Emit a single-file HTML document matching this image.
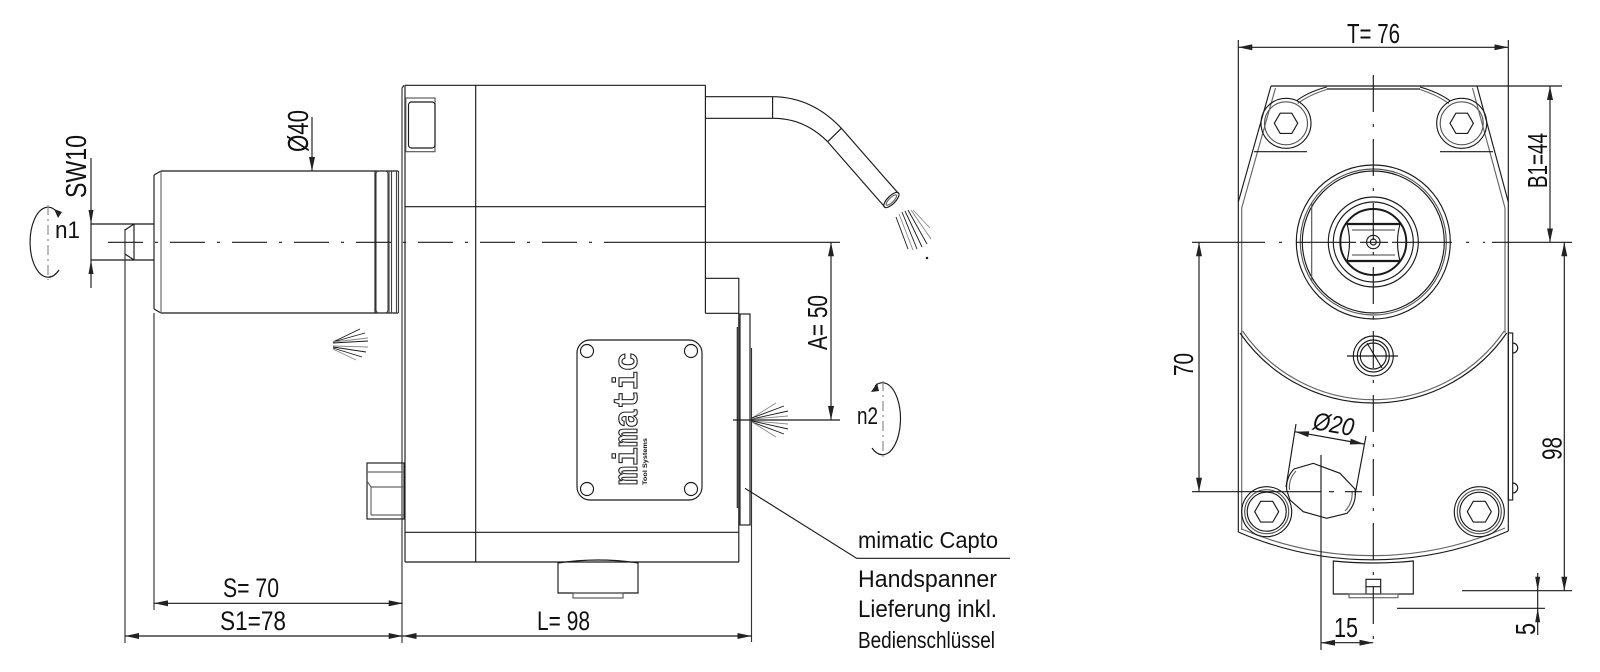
<!DOCTYPE html>
<html><head><meta charset="utf-8"><style>
html,body{margin:0;padding:0;background:#fff;}
svg{display:block;}
text{font-family:"Liberation Sans",Arial,sans-serif;fill:#111;}
</style></head><body>
<svg width="1600" height="672" viewBox="0 0 1600 672" xmlns="http://www.w3.org/2000/svg">
<defs>
<marker id="ar" viewBox="0 0 14 6" refX="14" refY="3" markerWidth="14" markerHeight="6" orient="auto-start-reverse" markerUnits="userSpaceOnUse"><path d="M0,0 L14,3 L0,6 z" fill="#222"/></marker>
</defs>
<rect width="1600" height="672" fill="#fff"/>

<!-- ============ LEFT VIEW ============ -->
<g fill="none" stroke="#1a1a1a" stroke-width="1.15">
<!-- small shaft -->
<line x1="91" y1="224" x2="154" y2="224"/>
<line x1="91" y1="260" x2="154" y2="260"/>
<line x1="125" y1="230" x2="134" y2="224"/>
<line x1="125" y1="254" x2="134" y2="260"/>
<line x1="134" y1="224" x2="134" y2="260"/>
<line x1="125" y1="229" x2="125" y2="643" stroke="#333"/>
<!-- SW10 dim -->
<line x1="91" y1="158" x2="91" y2="288"/>
<polygon points="88.5,210 93.5,210 91,224" fill="#222" stroke="none"/>
<polygon points="88.5,274 93.5,274 91,260" fill="#222" stroke="none"/>
<!-- n1 rotation -->
<path d="M58,213 A18,35 0 1 0 59,270"/>
<polygon points="54,209 62,212 58,218" fill="#222" stroke="none"/>
<line x1="48" y1="205" x2="48" y2="280" stroke="#888" stroke-dasharray="10,4,2,4"/>

<!-- cylinder -->
<line x1="161" y1="171" x2="398" y2="171"/>
<line x1="161" y1="313" x2="398" y2="313"/>
<line x1="154" y1="175" x2="154" y2="309"/>
<line x1="154" y1="175" x2="161" y2="171"/>
<line x1="154" y1="309" x2="161" y2="313"/>
<line x1="161" y1="171" x2="161" y2="313" stroke="#666"/>
<line x1="375" y1="171" x2="375" y2="313"/>
<rect x="376" y="171" width="12" height="142" rx="3" stroke="#444"/>
<line x1="389" y1="171" x2="389" y2="313" stroke="#444"/>
<line x1="391.5" y1="171" x2="391.5" y2="313" stroke="#444"/>
<line x1="396.5" y1="171" x2="396.5" y2="313" stroke="#444"/>
<line x1="398.5" y1="171" x2="398.5" y2="313" stroke="#444"/>
<!-- Ø40 leader -->
<line x1="312" y1="117" x2="312" y2="171" marker-end="url(#ar)"/>

<!-- main block -->
<line x1="405" y1="85.3" x2="705.4" y2="85.3"/>
<line x1="402" y1="88" x2="402" y2="643" stroke="#333"/>
<line x1="402" y1="88" x2="404" y2="85.3"/>
<line x1="405" y1="85.3" x2="405" y2="562"/>
<line x1="475.7" y1="85.3" x2="475.7" y2="562"/>
<line x1="705.4" y1="85.3" x2="705.4" y2="313.3"/>
<line x1="405" y1="206.7" x2="705.4" y2="206.7"/>
<polyline points="705.4,278.3 738.8,278.3 738.8,562"/>
<line x1="705.4" y1="313.3" x2="738.8" y2="313.3"/>
<line x1="405" y1="532.3" x2="739" y2="532.3"/>
<line x1="405" y1="562" x2="739" y2="562"/>
<rect x="405.8" y="98" width="29.2" height="53.7" stroke="#555"/>
<rect x="408.5" y="102" width="26.5" height="46" rx="3"/>
<!-- flange -->
<rect x="740" y="314" width="10" height="211"/>
<line x1="737.3" y1="327" x2="737.3" y2="508"/>
<line x1="751.5" y1="348" x2="751.5" y2="642" stroke="#333"/>
<!-- small box at left -->
<rect x="367" y="463" width="37" height="56"/>
<line x1="367" y1="472" x2="404" y2="472" stroke="#666"/>
<line x1="371" y1="487" x2="404" y2="487" stroke="#666"/>
<line x1="371" y1="487" x2="371" y2="515" stroke="#666"/>
<line x1="371" y1="515" x2="404" y2="515" stroke="#666"/>
<line x1="367" y1="481" x2="371" y2="487" stroke="#666"/>
<!-- knob bottom -->
<path d="M558,563 Q598,557 638,563 L638,593 L558,593 Z"/>
<rect x="573" y="593" width="50" height="5" stroke="#555"/>
<!-- nameplate -->
<rect x="577" y="340" width="125" height="160" rx="13"/>
<circle cx="587" cy="351" r="6.5"/>
<circle cx="691" cy="351" r="6.5"/>
<circle cx="587" cy="489" r="6.5"/>
<circle cx="691" cy="489" r="6.5"/>

<!-- hose -->
<line x1="705.4" y1="96.7" x2="772.6" y2="96.7"/>
<line x1="705.4" y1="118.3" x2="772.6" y2="118.3"/>
<line x1="772.6" y1="96.7" x2="772.6" y2="118.3"/>
<path d="M772.6,96.7 Q812,97 841.4,128.3"/>
<path d="M772.6,118.3 Q804,118 827.7,141.7"/>
<line x1="827.7" y1="141.7" x2="841.4" y2="128.3"/>
<line x1="841.4" y1="128.3" x2="898.3" y2="193.3"/>
<line x1="827.7" y1="141.7" x2="884.5" y2="206.7"/>
<ellipse cx="891.4" cy="200" rx="10" ry="4" transform="rotate(-45 891.4 200)"/>
<ellipse cx="891.4" cy="200" rx="7" ry="2.3" transform="rotate(-45 891.4 200)" stroke="#666"/>

<!-- sprays -->
<g stroke-width="0.9">
<line x1="333" y1="342" x2="360" y2="329"/>
<line x1="333" y1="342" x2="365" y2="333"/>
<line x1="333" y1="342" x2="368" y2="338" stroke="#888"/>
<line x1="333" y1="343" x2="368" y2="341"/>
<line x1="333" y1="346" x2="368" y2="347" stroke="#888"/>
<line x1="333" y1="347" x2="366" y2="352"/>
<line x1="333" y1="348" x2="362" y2="357"/>
<line x1="333" y1="349" x2="356" y2="360" stroke="#888"/>

<line x1="752" y1="418" x2="776" y2="403" stroke="#888"/>
<line x1="752" y1="418" x2="784" y2="406"/>
<line x1="752" y1="419" x2="788" y2="411"/>
<line x1="752" y1="419" x2="788" y2="416" stroke="#888"/>
<line x1="752" y1="421" x2="788" y2="424" stroke="#888"/>
<line x1="752" y1="421" x2="788" y2="429"/>
<line x1="752" y1="422" x2="784" y2="434"/>
<line x1="752" y1="422" x2="776" y2="437" stroke="#888"/>

<line x1="896" y1="217" x2="908" y2="249"/>
<line x1="899" y1="214" x2="913" y2="250" stroke="#888"/>
<line x1="902" y1="212" x2="917" y2="249"/>
<line x1="905" y1="211" x2="922" y2="247"/>
<line x1="908" y1="210" x2="927" y2="244"/>
<line x1="911" y1="210" x2="931" y2="239" stroke="#888"/>
<line x1="913" y1="210" x2="930" y2="228" stroke="#888"/>
<circle cx="927" cy="258" r="0.8" fill="#222"/>
</g>

<!-- centerline left view -->
<line x1="108" y1="242.3" x2="610" y2="242.3" stroke-dasharray="35,12,3,12"/>
<line x1="610" y1="242.3" x2="840" y2="242.3"/>
<!-- A=50 -->
<line x1="831" y1="242.3" x2="831" y2="420" marker-start="url(#ar)" marker-end="url(#ar)"/>
<line x1="733" y1="420" x2="840" y2="420"/>
<!-- n2 rotation -->
<path d="M875,386 A18,36 0 1 1 872,448"/>
<polygon points="871,392 877,383 879,391" fill="#222" stroke="none"/>
<line x1="883" y1="381" x2="883" y2="457" stroke="#888" stroke-dasharray="10,4,2,4"/>
<!-- leader -->
<polyline points="745,488.3 856.7,558.3 1010,558.3"/>

<!-- bottom dims -->
<line x1="154" y1="313" x2="154" y2="610" stroke="#333"/>
<line x1="154" y1="603.3" x2="402.7" y2="603.3" marker-start="url(#ar)" marker-end="url(#ar)"/>
<line x1="125" y1="636" x2="402.7" y2="636" marker-start="url(#ar)" marker-end="url(#ar)"/>
<line x1="402.7" y1="636" x2="751.5" y2="636" marker-start="url(#ar)" marker-end="url(#ar)"/>
</g>

<!-- logo -->
<text transform="translate(637,485) rotate(-90)" font-weight="bold" font-size="34" textLength="133" lengthAdjust="spacingAndGlyphs" style="fill:#fff;stroke:#222;stroke-width:1.1;font-family:'Liberation Mono','DejaVu Sans Mono',monospace">mimatic</text>
<text transform="translate(647,485) rotate(-90)" font-size="6.5" font-weight="bold" textLength="47" lengthAdjust="spacingAndGlyphs">Tool Systems</text>

<!-- left texts -->
<text transform="translate(86,198) rotate(-90)" font-size="29" textLength="63" lengthAdjust="spacingAndGlyphs">SW10</text>
<text transform="translate(308,152) rotate(-90)" font-size="29" textLength="42" lengthAdjust="spacingAndGlyphs">Ø40</text>
<text x="55" y="238" font-size="24" textLength="25" lengthAdjust="spacingAndGlyphs">n1</text>
<text transform="translate(827,350) rotate(-90)" font-size="28" textLength="55" lengthAdjust="spacingAndGlyphs">A= 50</text>
<text x="857" y="424" font-size="24" textLength="21" lengthAdjust="spacingAndGlyphs">n2</text>
<text x="858" y="548" font-size="23" textLength="140" lengthAdjust="spacingAndGlyphs">mimatic Capto</text>
<text x="858" y="587" font-size="24" textLength="139" lengthAdjust="spacingAndGlyphs">Handspanner</text>
<text x="858" y="617" font-size="24" textLength="139" lengthAdjust="spacingAndGlyphs">Lieferung inkl.</text>
<text x="858" y="648" font-size="23" textLength="137" lengthAdjust="spacingAndGlyphs">Bedienschlüssel</text>
<text x="223" y="597" font-size="27" textLength="56" lengthAdjust="spacingAndGlyphs">S= 70</text>
<text x="220" y="630" font-size="27" textLength="66" lengthAdjust="spacingAndGlyphs">S1=78</text>
<text x="537" y="630" font-size="27" textLength="53" lengthAdjust="spacingAndGlyphs">L= 98</text>

<!-- ============ RIGHT VIEW ============ -->
<g fill="none" stroke="#1a1a1a" stroke-width="1.15">
<!-- body outline -->
<line x1="1271" y1="86" x2="1562" y2="86"/>
<line x1="1271" y1="86" x2="1238.3" y2="202"/>
<line x1="1275.5" y1="88" x2="1241.7" y2="208" stroke="#666"/>
<line x1="1477" y1="86" x2="1508.3" y2="202"/>
<line x1="1472.5" y1="88" x2="1505" y2="208" stroke="#666"/>
<line x1="1238.3" y1="40" x2="1238.3" y2="532"/>
<line x1="1241.7" y1="208" x2="1241.7" y2="530" stroke="#666"/>
<line x1="1508.3" y1="40" x2="1508.3" y2="531"/>
<line x1="1505" y1="208" x2="1505" y2="333" stroke="#666"/>
<line x1="1326.7" y1="89" x2="1420" y2="89"/>
<path d="M1296.7,100.7 Q1308,92 1326.7,87"/>
<path d="M1297.5,103.5 Q1310,94.5 1326.7,89.5" stroke="#666"/>
<path d="M1450,100.7 Q1438,92 1420,87"/>
<path d="M1449,103.5 Q1436,94.5 1420,89.5" stroke="#666"/>
<line x1="1254" y1="151.7" x2="1307" y2="151.7"/>
<line x1="1440" y1="151.7" x2="1493" y2="151.7"/>
<!-- middle arc -->
<path d="M1240,333 A162,162 0 0 0 1506.7,333"/>
<path d="M1242.5,331 A159,159 0 0 0 1504.2,331" stroke="#666"/>
<!-- bottom arc -->
<path d="M1508.3,531 A336,336 0 0 1 1238.3,532"/>
<path d="M1505,528 A333,333 0 0 1 1241.7,529" stroke="#666"/>
<!-- right protrusion -->
<rect x="1508.3" y="333" width="4.4" height="167"/>
<path d="M1512.7,343 A5,5 0 0 1 1512.7,353"/>
<path d="M1512.7,483 A5,5 0 0 1 1512.7,493"/>

<!-- top bolts -->
<circle cx="1286" cy="123.3" r="25"/>
<circle cx="1286" cy="123.3" r="21.5" stroke="#555"/>
<polygon points="1274.3,123.3 1280.2,113.2 1291.8,113.2 1297.7,123.3 1291.8,133.4 1280.2,133.4"/>
<circle cx="1461.7" cy="123.3" r="25"/>
<circle cx="1461.7" cy="123.3" r="21.5" stroke="#555"/>
<polygon points="1450,123.3 1455.9,113.2 1467.5,113.2 1473.4,123.3 1467.5,133.4 1455.9,133.4"/>
<!-- bottom bolts -->
<circle cx="1266.7" cy="511.7" r="25"/>
<circle cx="1266.7" cy="511.7" r="22" stroke="#555"/>
<circle cx="1266.7" cy="511.7" r="19.5"/>
<polygon points="1254.7,511.7 1260.7,501.3 1272.7,501.3 1278.7,511.7 1272.7,522.1 1260.7,522.1"/>
<circle cx="1479.3" cy="511.7" r="25"/>
<circle cx="1479.3" cy="511.7" r="22" stroke="#555"/>
<circle cx="1479.3" cy="511.7" r="19.5"/>
<polygon points="1467.3,511.7 1473.3,501.3 1485.3,501.3 1491.3,511.7 1485.3,522.1 1473.3,522.1"/>

<!-- central boss -->
<circle cx="1373.3" cy="242" r="77"/>
<circle cx="1373.3" cy="242" r="73" stroke="#555"/>
<circle cx="1373.3" cy="242" r="71"/>
<line x1="1311.7" y1="203" x2="1311.7" y2="281" stroke="#555"/>
<circle cx="1373.3" cy="242" r="45"/>
<circle cx="1373.3" cy="242" r="40"/>
<circle cx="1373.3" cy="242" r="33" stroke-width="2"/>
<path d="M1347,224 L1400,224 Q1395,242 1400,261 L1347,261 Q1352,242 1347,224 Z"/>
<line x1="1347" y1="224" x2="1400" y2="224" stroke-width="2.2"/>
<line x1="1347" y1="261" x2="1400" y2="261" stroke-width="2.2"/>
<line x1="1352" y1="230" x2="1395" y2="230" stroke="#666"/>
<line x1="1352" y1="255" x2="1395" y2="255" stroke="#666"/>
<circle cx="1373.3" cy="242" r="6.7"/>
<circle cx="1373.3" cy="242" r="3"/>

<!-- small hole -->
<circle cx="1373.3" cy="356" r="20"/>
<circle cx="1373.3" cy="356" r="16"/>
<circle cx="1373.3" cy="356" r="13"/>
<line x1="1347" y1="356" x2="1398" y2="356"/>
<line x1="1367" y1="343" x2="1382" y2="368"/>

<!-- Ø20 hole -->
<path d="M1286.7,490 A27,27 0 0 1 1294,469 L1313.3,463.3 L1340,473.3 L1355,489 A27,27 0 0 1 1347,513.3 L1326.7,518.3 L1303.3,511.7 L1290,500 Z"/>
<path d="M1289.5,490 A24,24 0 0 1 1296,471" stroke="#666"/>
<path d="M1352,491 A24,24 0 0 1 1345,511" stroke="#666"/>
<line x1="1321" y1="455" x2="1321" y2="650"/>

<!-- bottom knob -->
<path d="M1333.3,561 Q1373,565 1413.3,561 L1413.3,594 L1333.3,594 Z"/>
<rect x="1366" y="579.3" width="14.7" height="14.7"/>
<line x1="1366" y1="586.7" x2="1380.7" y2="586.7"/>
<rect x="1349" y="594" width="49" height="3.7" stroke="#666"/>

<!-- centerlines -->
<line x1="1192" y1="242.3" x2="1263" y2="242.3"/>
<line x1="1263" y1="242.3" x2="1492" y2="242.3" stroke-dasharray="2,14,3,14,60,4,28,4,60,14,3,14"/>
<line x1="1492" y1="242.3" x2="1572" y2="242.3"/>
<line x1="1373.3" y1="75" x2="1373.3" y2="648" stroke-dasharray="37,12,3,12"/>
<line x1="1192" y1="491.7" x2="1321" y2="491.7"/>
<line x1="1329" y1="491.7" x2="1334" y2="491.7"/>
<line x1="1345" y1="491.7" x2="1362" y2="491.7"/>

<!-- dims -->
<line x1="1238.3" y1="47.3" x2="1508.3" y2="47.3" marker-start="url(#ar)" marker-end="url(#ar)"/>
<line x1="1550" y1="86" x2="1550" y2="242.3" marker-start="url(#ar)" marker-end="url(#ar)"/>
<line x1="1564.3" y1="242.3" x2="1564.3" y2="590.7" marker-start="url(#ar)" marker-end="url(#ar)"/>
<line x1="1462" y1="590.7" x2="1572" y2="590.7"/>
<line x1="1397" y1="608.3" x2="1545" y2="608.3"/>
<line x1="1537.7" y1="573" x2="1537.7" y2="635"/>
<polygon points="1535.2,576.7 1540.2,576.7 1537.7,590.7" fill="#222" stroke="none"/>
<polygon points="1535.2,622.3 1540.2,622.3 1537.7,608.3" fill="#222" stroke="none"/>
<line x1="1199" y1="242.3" x2="1199" y2="491.7" marker-start="url(#ar)" marker-end="url(#ar)"/>
<line x1="1321" y1="642.7" x2="1373.3" y2="642.7" marker-start="url(#ar)" marker-end="url(#ar)"/>
<line x1="1295" y1="431.7" x2="1364" y2="444" marker-start="url(#ar)" marker-end="url(#ar)"/>
<line x1="1296" y1="424" x2="1286" y2="487"/>
<line x1="1366" y1="436" x2="1355" y2="495"/>
</g>

<!-- right texts -->
<text x="1347" y="43" font-size="28" textLength="53" lengthAdjust="spacingAndGlyphs">T= 76</text>
<text transform="translate(1547,188) rotate(-90)" font-size="28" textLength="55" lengthAdjust="spacingAndGlyphs">B1=44</text>
<text transform="translate(1193,376) rotate(-90)" font-size="28" textLength="23" lengthAdjust="spacingAndGlyphs">70</text>
<text transform="translate(1561.7,460) rotate(-90)" font-size="28" textLength="23" lengthAdjust="spacingAndGlyphs">98</text>
<text x="1334" y="637" font-size="28" textLength="24" lengthAdjust="spacingAndGlyphs">15</text>
<text transform="translate(1535,635) rotate(-90)" font-size="28" textLength="12" lengthAdjust="spacingAndGlyphs">5</text>
<text transform="translate(1312,429) rotate(10)" font-size="25" textLength="41" lengthAdjust="spacingAndGlyphs" font-style="italic">Ø20</text>
</svg>
</body></html>
